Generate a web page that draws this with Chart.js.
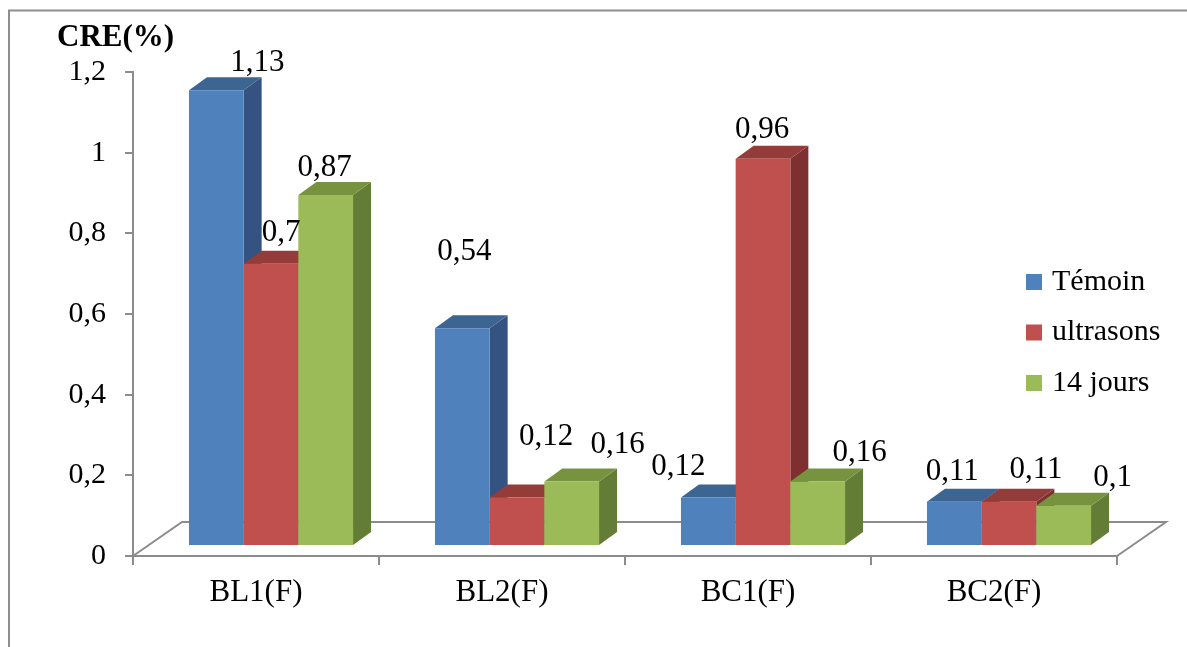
<!DOCTYPE html>
<html>
<head>
<meta charset="utf-8">
<script src="https://cdn.jsdelivr.net/npm/chart.js@4"></script>
<style>
  html, body { margin: 0; padding: 0; background: #fff; }
  canvas { display: block; }
</style>
</head>
<body>
<canvas id="creChart" width="1187" height="647"></canvas>
<script>
const categories = ["BL1(F)", "BL2(F)", "BC1(F)", "BC2(F)"];
const seriesNames = ["Témoin", "ultrasons", "14 jours"];
const temoin = [1.13, 0.54, 0.12, 0.11];
const ultrasons = [0.7, 0.12, 0.96, 0.11];
const quatorzeJours = [0.87, 0.16, 0.16, 0.1];
const yTicks = [0, 0.2, 0.4, 0.6, 0.8, 1, 1.2];

// hand-placed value labels, offset from the top-front of each bar (px)
const labelNudge = [
  [[41, -27], [2, -76], [-30, -31], [-2, -30]],
  [[10, -31], [29, -61], [-1, -29], [27, -32]],
  [[-1, -27], [46, -37], [42, -29], [49, -28]],
];

const front = ["#4f81bd", "#c0504d", "#9bbb59"];
const topFace = ["#3d6592", "#943c3a", "#77933f"];
const sideFace = ["#345380", "#7d302f", "#647d36"];

const AXIS = "#8c8c8c";
const FONT = "'Liberation Serif', 'Times New Roman', serif";

// oblique projection: bars sit a little behind the axis plane
const SHIFT_X = 15, SHIFT_Y = -10;   // front face of bars
const DEPTH_X = 18, DEPTH_Y = 13;    // bar depth
const FLOOR_X = 49, FLOOR_Y = 34;    // floor depth

const fmt = (v) => String(+v.toFixed(2)).replace(".", ",");

const frame3d = {
  id: "frame3d",
  beforeDraw(chart) {
    const ctx = chart.ctx;
    ctx.save();
    ctx.strokeStyle = "#8e8e8e";
    ctx.lineWidth = 2;
    ctx.beginPath();
    ctx.moveTo(9, 647);
    ctx.lineTo(9, 10.5);
    ctx.lineTo(1187, 10.5);
    ctx.stroke();
    ctx.restore();
  },
  beforeDatasetsDraw(chart) {
    const ctx = chart.ctx;
    const { left, right } = chart.chartArea;
    const y0 = chart.scales.y.getPixelForValue(0);

    // floor outline
    ctx.save();
    ctx.strokeStyle = AXIS;
    ctx.lineWidth = 2;
    ctx.beginPath();
    ctx.moveTo(left, y0);
    ctx.lineTo(left + FLOOR_X, y0 - FLOOR_Y);
    ctx.lineTo(right + FLOOR_X, y0 - FLOOR_Y);
    ctx.lineTo(right, y0);
    ctx.stroke();
    ctx.restore();

    // bars, left to right so nearer faces cover hidden ones
    const bars = [];
    chart.data.datasets.forEach((ds, di) => {
      chart.getDatasetMeta(di).data.forEach((el) => bars.push({ el, di }));
    });
    bars.sort((a, b) => a.el.x - b.el.x);

    ctx.save();
    ctx.translate(SHIFT_X, SHIFT_Y);
    bars.forEach(({ el, di }) => {
      const { x, y, base, width } = el.getProps(["x", "y", "base", "width"], true);
      const l = x - width / 2, r = x + width / 2;
      ctx.fillStyle = sideFace[di];
      ctx.beginPath();
      ctx.moveTo(r, y);
      ctx.lineTo(r + DEPTH_X, y - DEPTH_Y);
      ctx.lineTo(r + DEPTH_X, base - DEPTH_Y);
      ctx.lineTo(r, base);
      ctx.closePath();
      ctx.fill();
      ctx.fillStyle = topFace[di];
      ctx.beginPath();
      ctx.moveTo(l, y);
      ctx.lineTo(r, y);
      ctx.lineTo(r + DEPTH_X, y - DEPTH_Y);
      ctx.lineTo(l + DEPTH_X, y - DEPTH_Y);
      ctx.closePath();
      ctx.fill();
      el.draw(ctx);
    });
    ctx.restore();
    return false;
  },
  afterDraw(chart) {
    const ctx = chart.ctx;
    ctx.save();
    ctx.fillStyle = "#000";

    // value labels
    ctx.font = "31px " + FONT;
    ctx.textAlign = "center";
    ctx.textBaseline = "middle";
    chart.data.datasets.forEach((ds, di) => {
      chart.getDatasetMeta(di).data.forEach((el, i) => {
        const [dx, dy] = labelNudge[di][i];
        ctx.fillText(fmt(ds.data[i]), el.x + SHIFT_X + dx, el.y + SHIFT_Y + dy);
      });
    });

    // axis title
    ctx.font = "bold 31px " + FONT;
    ctx.textAlign = "left";
    ctx.fillText("CRE(%)", 57, 38);

    // legend
    ctx.font = "30px " + FONT;
    chart.data.datasets.forEach((ds, di) => {
      const cy = 282 + di * 50.5;
      ctx.fillStyle = ds.backgroundColor;
      ctx.fillRect(1026, cy - 8, 16, 16);
      ctx.fillStyle = "#000";
      ctx.fillText(ds.label, 1052, cy);
    });
    ctx.restore();
  },
};

new Chart(document.getElementById("creChart"), {
  type: "bar",
  data: {
    labels: categories,
    datasets: [temoin, ultrasons, quatorzeJours].map((values, i) => ({
      label: seriesNames[i],
      data: values,
      backgroundColor: front[i],
      borderWidth: 0,
      categoryPercentage: 0.667,
      barPercentage: 1,
    })),
  },
  options: {
    responsive: false,
    animation: false,
    layout: { padding: { left: 0, top: 72, right: 70, bottom: 31 } },
    plugins: { legend: { display: false }, tooltip: { enabled: false } },
    scales: {
      x: {
        offset: true,
        grid: { offset: true, drawOnChartArea: false, tickLength: 9, color: AXIS, lineWidth: 2 },
        border: { color: AXIS, width: 2 },
        ticks: { color: "#000", font: { family: FONT, size: 31 }, padding: 9 },
        afterFit: (s) => { s.height = 60; },
      },
      y: {
        min: 0,
        max: 1.2,
        afterBuildTicks: (s) => { s.ticks = yTicks.map((v) => ({ value: v })); },
        grid: { drawOnChartArea: false, tickLength: 8, color: AXIS, lineWidth: 2 },
        border: { color: AXIS, width: 2 },
        ticks: { color: "#000", font: { family: FONT, size: 30 }, padding: 19, callback: (v) => fmt(v) },
        afterFit: (s) => { s.width = 133; },
      },
    },
  },
  plugins: [frame3d],
});
</script>
</body>
</html>
